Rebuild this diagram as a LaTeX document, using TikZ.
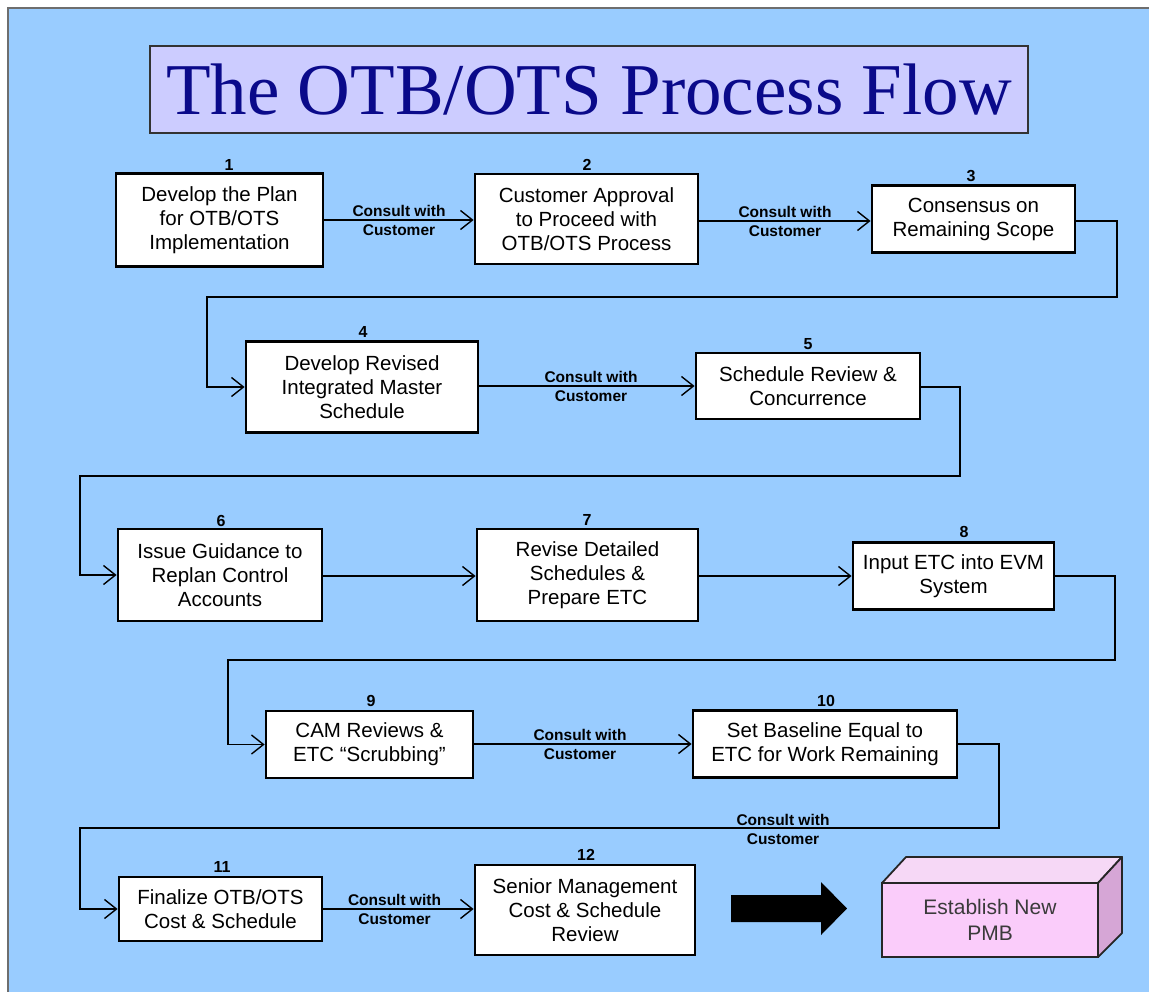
\documentclass[tikz,border=0pt]{standalone}
\usepackage{fontspec}
\setmainfont{Liberation Sans}
\newfontfamily\titlefont{Liberation Serif}
\usetikzlibrary{arrows.meta}
\definecolor{bgblue}{HTML}{99CCFF}
\definecolor{titlefill}{HTML}{CCCCFF}
\definecolor{titletext}{HTML}{0A0A8A}
\definecolor{framegray}{HTML}{6E6E6E}
\definecolor{pmbfront}{HTML}{FACCFA}
\definecolor{pmbtop}{HTML}{F6D8F6}
\definecolor{pmbside}{HTML}{D6A6D6}
\definecolor{pmbtext}{HTML}{3A3A3A}
\tikzset{
  stepbox/.style={draw=black, line width=2.8pt, fill=white, align=center, inner sep=0pt,
    font=\fontsize{20.5}{24}\selectfont},
  num/.style={font=\fontsize{16}{16}\selectfont\bfseries, inner sep=0pt, anchor=base},
  arr/.style={line width=1.4pt, -{Straight Barb[length=12pt,width=19pt,line width=1.4pt]}},
  consult/.style={font=\fontsize{15.5}{19}\selectfont\bfseries, align=center, inner sep=0pt},
}
\begin{document}
\begin{tikzpicture}[x=1pt,y=-1pt]
\useasboundingbox (0,0) rectangle (1149,991);
\fill[white] (0,0) rectangle (1149,991);
\filldraw[fill=bgblue, draw=framegray, line width=2.5pt] (8,8) rectangle (1165,1005);

% title
\node[draw=black!80, line width=1.3pt, fill=titlefill, minimum width=878, minimum height=87, inner sep=0pt,
  font=\titlefont\fontsize{73}{73}\selectfont, text=titletext] (title) at (589,89.5) {The OTB/OTS Process Flow};

% boxes
\node[stepbox, minimum width=207, minimum height=93] (b1) at (219.5,220) {Develop the Plan\\for OTB/OTS\\Implementation};
\node[stepbox, minimum width=223, minimum height=90] (b2) at (586.5,219) {Customer Approval\\to Proceed with\\OTB/OTS Process};
\node[stepbox, minimum width=203, minimum height=67] (b3) at (973.5,219) {Consensus on\\Remaining Scope};
\node[stepbox, minimum width=232, minimum height=91] (b4) at (362,387) {Develop Revised\\Integrated Master\\Schedule};
\node[stepbox, minimum width=224, minimum height=66] (b5) at (808,386) {Schedule Review \&\\Concurrence};
\node[stepbox, minimum width=204, minimum height=92] (b6) at (220,575) {Issue Guidance to\\Replan Control\\Accounts};
\node[stepbox, minimum width=221, minimum height=92] (b7) at (587.5,575) {Revise Detailed\\Schedules \&\\Prepare ETC};
\node[stepbox, minimum width=201, minimum height=67] (b8) at (953.5,576) {Input ETC into EVM\\System};
\node[stepbox, minimum width=207, minimum height=67] (b9) at (369.5,744.5) {CAM Reviews \&\\ETC “Scrubbing”};
\node[stepbox, minimum width=264, minimum height=67] (b10) at (825,744) {Set Baseline Equal to\\ETC for Work Remaining};
\node[stepbox, minimum width=203, minimum height=64] (b11) at (220.5,909) {Finalize OTB/OTS\\Cost \& Schedule};
\node[stepbox, minimum width=220, minimum height=90] (b12) at (585,910) {Senior Management\\Cost \& Schedule\\Review};

% numbers
\node[num] (n1) at (229,170) {1};
\node[num] (n2) at (587,170) {2};
\node[num] (n3) at (971,181) {3};
\node[num] (n4) at (363,337) {4};
\node[num] (n5) at (808,349) {5};
\node[num] (n6) at (221,526) {6};
\node[num] (n7) at (587,525) {7};
\node[num] (n8) at (964,537) {8};
\node[num] (n9) at (371,706) {9};
\node[num] (n10) at (826,706) {10};
\node[num] (n11) at (222,872) {11};
\node[num] (n12) at (586,860) {12};

% bend coordinates
\coordinate (r3) at (1117,297);
\coordinate (l4) at (207,297);
\coordinate (r5) at (960,476);
\coordinate (l6) at (80,476);
\coordinate (r8) at (1115,660);
\coordinate (l9) at (228,660);
\coordinate (r10) at (999,828);
\coordinate (l11) at (80,828);

% connectors
\draw[arr] (b1.east |- 0,220) -- node[consult] (c12) {Consult with\\Customer} (b2.west |- 0,220);
\draw[arr] (b2.east |- 0,221) -- node[consult] (c23) {Consult with\\Customer} (b3.west |- 0,221);
\draw[arr] (b3.east |- 0,221) -| (r3) -- (l4) |- (b4.west);
\draw[arr] (b4.east |- 0,386) -- node[consult, xshift=4] (c45) {Consult with\\Customer} (b5.west |- 0,386);
\draw[arr] (b5.east |- 0,387) -| (r5) -- (l6) |- (b6.west);
\draw[arr] (b6.east |- 0,576) -- (b7.west |- 0,576);
\draw[arr] (b7.east |- 0,576) -- (b8.west);
\draw[arr] (b8.east) -| (r8) -- (l9) |- (b9.west);
\draw[arr] (b9.east |- 0,744) -- node[consult, xshift=-3] (c910) {Consult with\\Customer} (b10.west |- 0,744);
\draw[arr] (b10.east) -| (r10) -- (l11) |- (b11.west);
\node[consult] (c1011) at (783,829) {Consult with\\Customer};
\draw[arr] (b11.east) -- node[consult, xshift=-4] (c1112) {Consult with\\Customer} (b12.west |- 0,909);

% big arrow
\fill[black] (731,895) -- (821,895) -- (821,882) -- (847,908.5) -- (821,935) -- (821,922) -- (731,922) -- cycle;

% PMB block
\filldraw[fill=pmbtop, draw=black!85, line width=1.8pt, line join=round] (882,883) -- (906,857) -- (1122,857) -- (1098,883) -- cycle;
\filldraw[fill=pmbside, draw=black!85, line width=1.8pt, line join=round] (1098,883) -- (1122,857) -- (1122,933) -- (1098,957) -- cycle;
\node[draw=black!85, line width=1.8pt, fill=pmbfront, minimum width=216, minimum height=74, inner sep=0pt,
  align=center, text=pmbtext, font=\fontsize{21}{26}\selectfont] (pmb) at (990,920) {Establish New\\PMB};
\end{tikzpicture}
\end{document}
